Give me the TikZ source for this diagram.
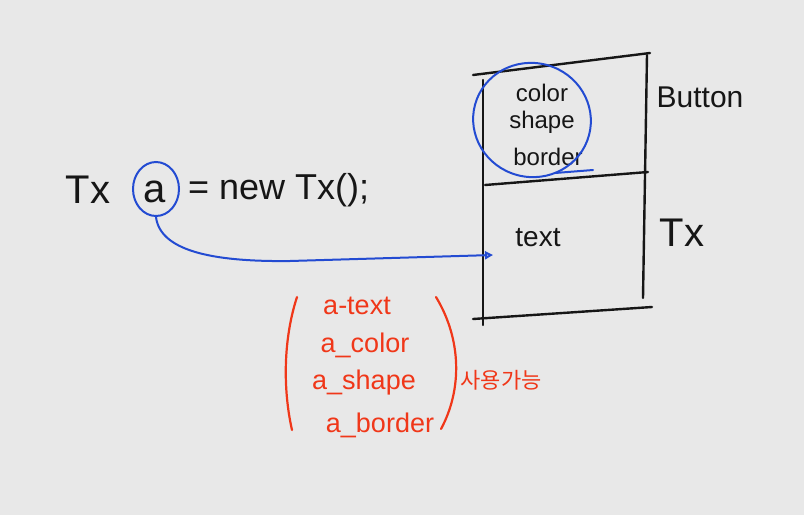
\documentclass[tikz,border=0pt]{standalone}
\usepackage{fontspec}
\setmainfont{Liberation Sans}
\newfontfamily\krfont{Noto Sans CJK KR}
\usetikzlibrary{arrows.meta,shapes.geometric}
\definecolor{bg}{RGB}{232,232,232}
\definecolor{pen}{RGB}{22,22,22}
\definecolor{bluepen}{RGB}{35,75,210}
\definecolor{redpen}{RGB}{240,55,25}
\begin{document}
\begin{tikzpicture}[x=1pt,y=-1pt,
  boxline/.style={draw=pen,line width=2.4pt,line cap=round},
  hand/.style={inner sep=0pt,text=pen},
  redtxt/.style={inner sep=0pt,text=redpen,font=\fontsize{27}{27}\selectfont},
  bluestroke/.style={draw=bluepen,line width=2pt,line cap=round},
  redstroke/.style={draw=redpen,line width=2.2pt,line cap=round}]
\fill[bg] (0,0) rectangle (804,515);
\useasboundingbox (0,0) rectangle (804,515);
% box
\draw[boxline] (473,75) -- (650,53);
\draw[boxline] (483,80) -- (483,325);
\draw[boxline] (647,55) -- (643,298);
\draw[boxline] (485,185) -- (648,172);
\draw[boxline] (473,319) -- (652,307);
% cell texts
\node[hand,font=\fontsize{24}{24}\selectfont] (color) at (542,93) {color};
\node[hand,font=\fontsize{24}{24}\selectfont] (shape) at (542,122) {shape};
\node[hand,font=\fontsize{24}{24}\selectfont] (border) at (548,157) {border};
\node[hand,font=\fontsize{28}{28}\selectfont] (text) at (538,238) {text};
\node[hand,font=\fontsize{30}{30}\selectfont] (button) at (700,97) {Button};
\node[hand,font=\fontsize{40}{40}\selectfont] (tx2) at (682,233) {Tx};
% blue ring around inherited fields
\node[ellipse,bluestroke,minimum width=118pt,minimum height=114pt,rotate=-15] (fields) at (532,120) {};
\draw[bluestroke] (555,173) -- (593,170);
% declaration
\node[hand,font=\fontsize{40}{40}\selectfont] (tx1) at (88,190) {Tx};
\node[hand,font=\fontsize{40}{40}\selectfont] (a) at (155,192) {a};
\node[hand,font=\fontsize{36}{36}\selectfont,anchor=west] (rest) at (188,190) {= new Tx();};
\node[ellipse,bluestroke,minimum width=46pt,minimum height=54pt] (aring) at (156,189) {};
\coordinate (tgt) at (493,255);
\draw[bluestroke,-{Triangle[open,length=8pt,width=8pt]}] (aring.south) .. controls (160,250) and (210,262) .. (290,261) -- (tgt);
% red annotation
\draw[redstroke] (297,297) .. controls (283,340) and (283,390) .. (292,430);
\draw[redstroke] (436,297) .. controls (462,340) and (462,390) .. (441,429);
\node[redtxt] (r1) at (357,306) {a-text};
\node[redtxt] (r2) at (365,345) {a\_color};
\node[redtxt] (r3) at (364,383) {a\_shape};
\node[redtxt] (r4) at (380,425) {a\_border};
\node[inner sep=0pt,text=redpen,font=\krfont\fontsize{22}{22}\selectfont] (kr) at (501,380) {사용가능};
\end{tikzpicture}
\end{document}
